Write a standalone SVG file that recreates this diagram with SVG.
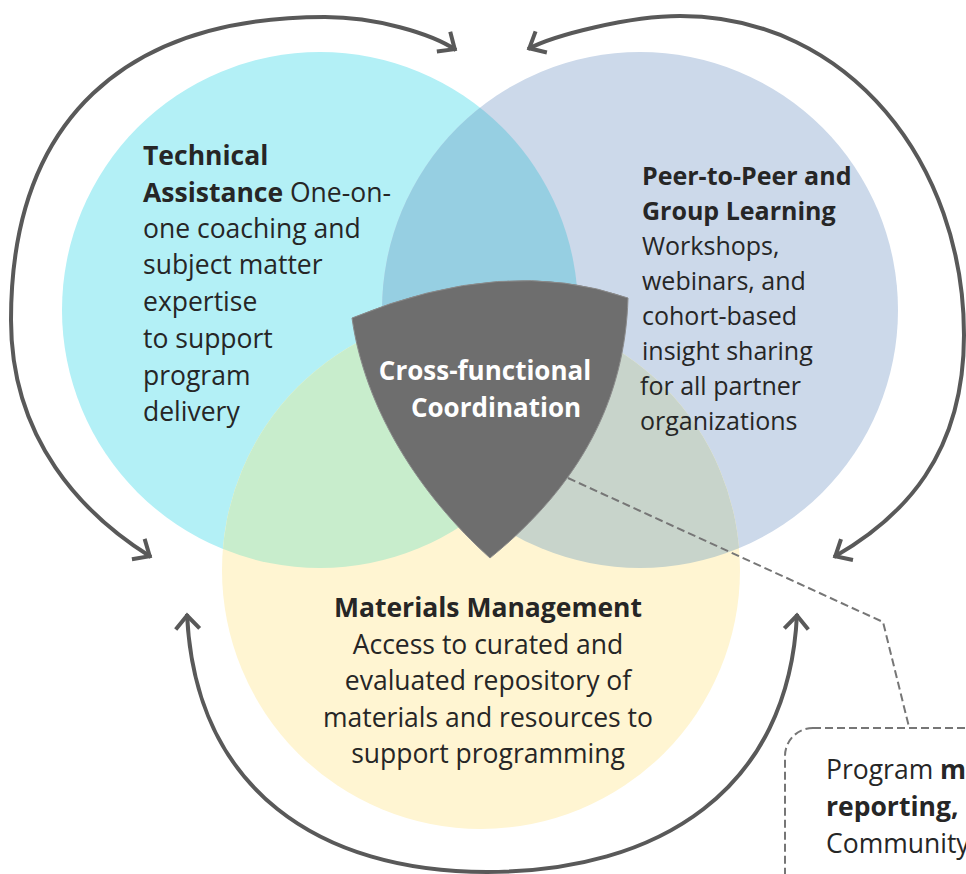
<svg xmlns="http://www.w3.org/2000/svg" width="966" height="874" viewBox="0 0 966 874">
<style>
.t{font-family:"Open Sans","Liberation Sans",sans-serif;fill:#262626;}
.b{font-weight:bold;}
.l{font-size:26.5px;}
.r{font-size:25px;}
.m{font-size:26.5px;text-anchor:middle;}
.w{font-family:"Open Sans","Liberation Sans",sans-serif;font-weight:bold;font-size:26px;fill:#ffffff;text-anchor:middle;}
.arc{fill:none;stroke:#595959;stroke-width:4;marker-start:url(#ah);marker-end:url(#ah);}
.dash{fill:none;stroke:#767676;stroke-width:2;stroke-dasharray:8 4;}
</style>
<defs>
<marker id="ah" viewBox="-20 -16 24 32" refX="0" refY="0" markerWidth="24" markerHeight="32" markerUnits="userSpaceOnUse" orient="auto-start-reverse">
<path d="M-15,-12 L-1.5,0 L-15,12" fill="none" stroke="#595959" stroke-width="4" stroke-linejoin="miter"/>
</marker>
<clipPath id="clipC"><circle cx="320" cy="310" r="258"/></clipPath>
<clipPath id="clipB"><circle cx="640" cy="310" r="258"/></clipPath>
</defs>
<rect width="966" height="874" fill="#ffffff"/>

<g id="technical-assistance-circle"><circle cx="320" cy="310" r="258" fill="#B3F0F6"/></g>
<g id="peer-learning-circle"><circle cx="640" cy="310" r="258" fill="#CCD9EA"/></g>
<g id="materials-management-circle"><circle cx="481" cy="570" r="259" fill="#FFF5D2"/></g>
<g id="overlaps">
<g clip-path="url(#clipC)">
<circle cx="640" cy="310" r="258" fill="#96CFE2"/>
<circle cx="481" cy="570" r="259" fill="#C8EDCC"/>
</g>
<g clip-path="url(#clipB)">
<circle cx="481" cy="570" r="259" fill="#C8D4CB"/>
<g clip-path="url(#clipC)"><circle cx="481" cy="570" r="259" fill="#A9D0D2"/></g>
</g>
</g>

<g id="technical-assistance">
<text class="t l" x="143" y="165"><tspan class="b">Technical</tspan></text>
<text class="t l" x="143" y="202"><tspan class="b">Assistance</tspan> One-on-</text>
<text class="t l" x="143" y="238">one coaching and</text>
<text class="t l" x="143" y="274">subject matter</text>
<text class="t l" x="143" y="311">expertise</text>
<text class="t l" x="143" y="348">to support</text>
<text class="t l" x="143" y="385">program</text>
<text class="t l" x="143" y="421">delivery</text>
</g>

<g id="peer-learning">
<text class="t r b" x="642" y="185">Peer-to-Peer and</text>
<text class="t r b" x="642" y="220">Group Learning</text>
<text class="t r" x="642" y="255">Workshops,</text>
<text class="t r" x="642" y="290">webinars, and</text>
<text class="t r" x="642" y="325">cohort-based</text>
<text class="t r" x="642" y="360">insight sharing</text>
<text class="t r" x="640" y="395">for all partner</text>
<text class="t r" x="640" y="430">organizations</text>
</g>

<g id="materials-management">
<text class="t m b" x="488" y="617">Materials Management</text>
<text class="t m" x="488" y="653.5">Access to curated and</text>
<text class="t m" x="488" y="690">evaluated repository of</text>
<text class="t m" x="488" y="726.5">materials and resources to</text>
<text class="t m" x="488" y="763">support programming</text>
</g>

<g id="connectors">
<path class="dash" d="M568,478 L883,622 L909,727"/>
<path class="arc" d="M151,557 C83,514.6 11,440 11,320 C11,120 125,17 325,17 C375,17 431,33.2 456,50"/>
<path class="arc" d="M834,557 C903.6,517 964,455 964,335 C964,165 850,16 680,16 C630,16 554.4,34.9 528,49"/>
<path class="arc" d="M187,614 C195,790 320,872 487,872 C659,872 789,790 797,614"/>
</g>

<g id="coordination">
<path d="M352,318 Q505,255 628,298 C625,400 580,485 490,558 C420,495 365,410 352,318 Z" fill="#6E6E6E" stroke="#8A8A8A" stroke-width="1"/>
<text class="w" x="485" y="380">Cross-functional</text>
<text class="w" x="496" y="417">Coordination</text>
</g>

<g id="note">
<rect class="dash" x="785" y="728" width="320" height="200" rx="28"/>
<text class="t l" x="826" y="779">Program <tspan class="b">m</tspan></text>
<text class="t l b" x="826" y="816">reporting,</text>
<text class="t l" x="826" y="853">Community</text>
</g>
</svg>
